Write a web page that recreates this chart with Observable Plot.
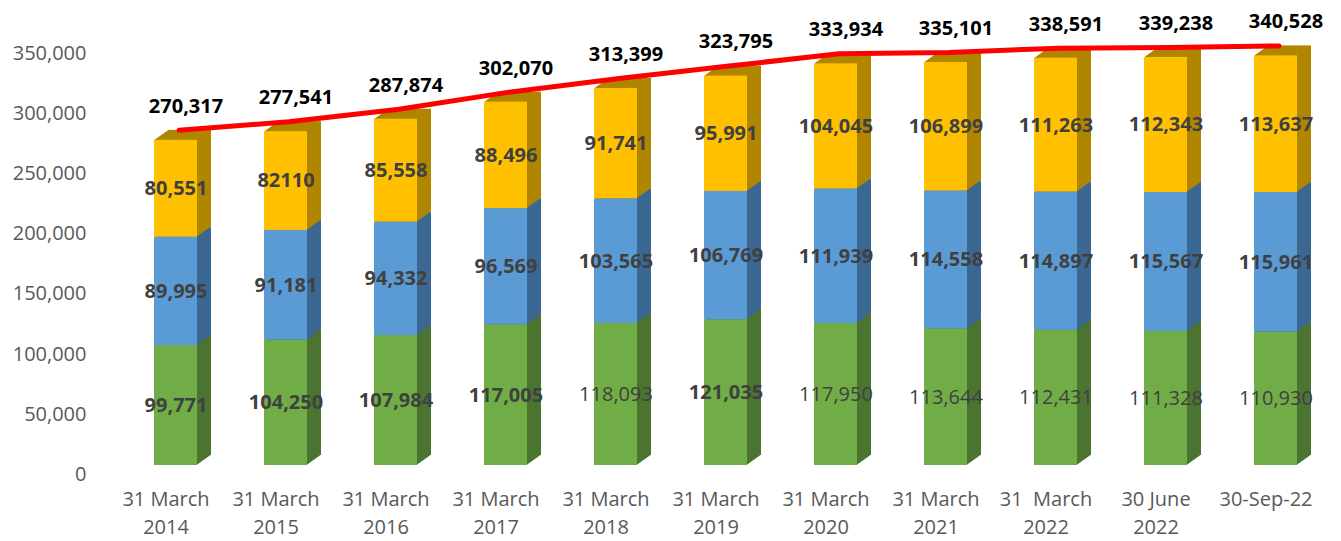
<!DOCTYPE html>
<html>
<head>
<meta charset="utf-8">
<script src="https://cdn.jsdelivr.net/npm/d3@7"></script>
<script src="https://cdn.jsdelivr.net/npm/@observablehq/plot@0.6"></script>
<style>
  html, body { margin: 0; padding: 0; background: #fff; }
</style>
</head>
<body>
<div id="chart"></div>
<script>
const categories = ["31 March\n2014", "31 March\n2015", "31 March\n2016", "31 March\n2017", "31 March\n2018", "31 March\n2019", "31 March\n2020", "31 March\n2021", "31\u00a0 March\n2022", "30 June\n2022", "30-Sep-22"];
const green  = [99771, 104250, 107984, 117005, 118093, 121035, 117950, 113644, 112431, 111328, 110930];
const blue   = [89995, 91181, 94332, 96569, 103565, 106769, 111939, 114558, 114897, 115567, 115961];
const yellow = [80551, 82110, 85558, 88496, 91741, 95991, 104045, 106899, 111263, 112343, 113637];
const totals = [270317, 277541, 287874, 302070, 313399, 323795, 333934, 335101, 338591, 339238, 340528];
const yTicks = [0, 50000, 100000, 150000, 200000, 250000, 300000, 350000];

// style lists
const frontColor = {green: "#70ad47", blue: "#5b9bd5", yellow: "#ffc000"};
const sideColor  = {green: "#4a7430", blue: "#3a6892", yellow: "#b08600"};
const plainGreenIdx = [4, 6, 7, 8, 9, 10];

const fmt = d3.format(",");
const labelText = d => (d.value === 82110 ? "82110" : fmt(d.value));

const rows = [];
categories.forEach((c, i) => {
  rows.push({cat: c, i, series: "green", value: green[i]});
  rows.push({cat: c, i, series: "blue", value: blue[i]});
  rows.push({cat: c, i, series: "yellow", value: yellow[i]});
});
const totalRows = categories.map((c, i) => ({cat: c, total: totals[i]}));
const isPlain = d => d.series === "green" && plainGreenIdx.includes(d.i);

const frontDy = -9;
const depth = 14, depthRise = 10;
const depthMarks = [];
for (let k = depth; k >= 1; k--) {
  depthMarks.push(Plot.barY(rows, {
    x: "cat", y: "value", z: "series",
    fill: d => sideColor[d.series],
    dx: k, dy: frontDy - k * depthRise / depth
  }));
}

const chart = Plot.plot({
  width: 1341,
  height: 541,
  marginLeft: 120,
  marginRight: 11,
  marginTop: 53,
  marginBottom: 67,
  style: {fontFamily: "'Open Sans', sans-serif", background: "#fff"},
  x: {domain: categories, paddingInner: 0.61, paddingOuter: 0.305},
  y: {domain: [0, 350000]},
  color: {type: "identity"},
  marks: [
    Plot.axisY({ticks: yTicks, tickFormat: fmt, tickSize: 0, tickPadding: 34, fontSize: 20, fill: "#595959", label: null}),
    Plot.axisX({tickSize: 0, tickPadding: 12, fontSize: 20, fill: "#595959", lineHeight: 1.4, dx: -10, label: null}),
    ...depthMarks,
    Plot.barY(rows, {x: "cat", y: "value", z: "series", fill: d => frontColor[d.series], dy: frontDy}),
    Plot.text(rows, Plot.stackY({
      x: "cat", y: "value", z: "series",
      text: d => isPlain(d) ? "" : labelText(d),
      dy: frontDy, fontSize: 20, fontWeight: "bold", fill: "#404040"
    })),
    Plot.text(rows, Plot.stackY({
      x: "cat", y: "value", z: "series",
      text: d => isPlain(d) ? labelText(d) : "",
      dy: frontDy, fontSize: 20, fill: "#404040"
    })),
    Plot.lineY(totalRows, {x: "cat", y: "total", stroke: "#ff0000", strokeWidth: 5, dx: 3, dy: -19}),
    Plot.text(totalRows, {x: "cat", y: "total", text: d => fmt(d.total), dx: 10, dy: -43, fontSize: 20, fontWeight: "bold", fill: "#000"})
  ]
});
document.getElementById("chart").appendChild(chart);
</script>
</body>
</html>
